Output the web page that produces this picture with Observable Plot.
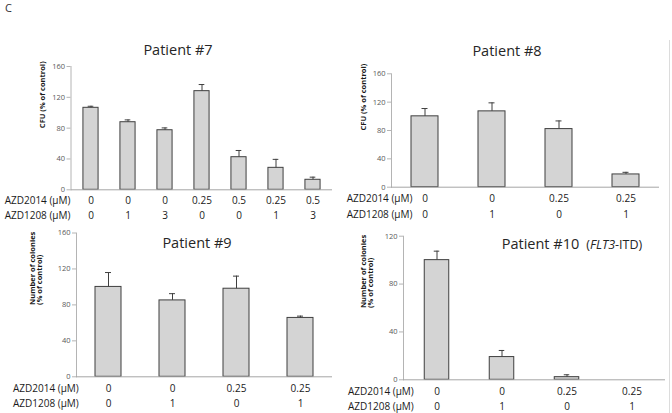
<!DOCTYPE html>
<html>
<head>
<meta charset="utf-8">
<script src="https://cdn.jsdelivr.net/npm/d3@7"></script>
<script src="https://cdn.jsdelivr.net/npm/@observablehq/plot@0.6"></script>
<style>
  html, body { margin: 0; padding: 0; background: #fff; }
  #root { position: relative; width: 672px; height: 413px; overflow: hidden; font-family: "Open Sans", sans-serif; }
  .panel { position: absolute; }
  .title { position: absolute; font-size: 14.5px; color: #262626; white-space: nowrap; transform: translate(-50%, -50%); line-height: 1; }
  .title.left { transform: translate(0, -50%); }
  .sub { font-size: 12.5px; }
  .letter { position: absolute; left: 5px; top: 2px; font-size: 11px; line-height: 11px; color: #333; }
  .vline { position: absolute; left: 669px; top: 40px; width: 1px; height: 373px; background: #dcdcdc; }
</style>
</head>
<body>
<div id="root">
  <div class="letter">C</div>
  <div class="vline"></div>
</div>
<script>
// ---- data ----
const rowLabel2014 = "AZD2014 (μM)";
const rowLabel1208 = "AZD1208 (μM)";

const p7Title = "Patient #7";
const p7Azd2014 = ["0", "0", "0", "0.25", "0.5", "0.25", "0.5"];
const p7Azd1208 = ["0", "1", "3", "0", "0", "1", "3"];
const p7Values = [106.4, 87.7, 77.3, 128, 42.3, 28.5, 13];
const p7Errors = [2, 3, 3, 8.6, 8.7, 11, 3.4];
const p7YTitle = "CFU (% of control)";

const p8Title = "Patient #8";
const p8Azd2014 = ["0", "0", "0.25", "0.25"];
const p8Azd1208 = ["0", "1", "0", "1"];
const p8Values = [100, 107, 82, 18];
const p8Errors = [11, 12, 11.5, 3];
const p8YTitle = "CFU (% of control)";

const p9Title = "Patient #9";
const p9Azd2014 = ["0", "0", "0.25", "0.25"];
const p9Azd1208 = ["0", "1", "0", "1"];
const p9Values = [100, 85, 98, 65.5];
const p9Errors = [16, 7.5, 14, 2];
const p9YTitle = "Number of colonies\n(% of control)";

const p10Title = "Patient #10";
const p10Sub = "FLT3";
const p10SubRest = "-ITD)";
const p10Azd2014 = ["0", "0", "0.25", "0.25"];
const p10Azd1208 = ["0", "1", "0", "1"];
const p10Values = [100, 19, 2.2, 0];
const p10Errors = [7.5, 5.5, 2, 0];
const p10YTitle = "Number of colonies\n(% of control)";

const yTicks160 = [0, 40, 80, 120, 160];
const yTicks120 = [0, 40, 80, 120];

// ---- drawing ----
const root = document.getElementById("root");

function panel(cfg) {
  const n = cfg.values.length;
  const rows = cfg.values.map((v, i) => ({k: i, v, e: cfg.errors[i], a: cfg.azd2014[i], b: cfg.azd1208[i]}));
  const errRows = rows.filter(d => d.e > 0);
  const step = (cfg.width - cfg.ml - cfg.mr) / n;
  const barIns = (step - cfg.barWidth) / 2;
  const capIns = (step - 6) / 2;
  const txt = {fontSize: 10, fill: "#1a1a1a", lineAnchor: "middle"};
  const chart = Plot.plot({
    width: cfg.width,
    height: cfg.height,
    marginLeft: cfg.ml,
    marginRight: cfg.mr,
    marginTop: cfg.mt,
    marginBottom: cfg.mb,
    style: {fontFamily: "'Open Sans', sans-serif", background: "transparent", overflow: "visible"},
    x: {type: "band", domain: d3.range(n), padding: 0, axis: null},
    y: {domain: [0, cfg.yMax], axis: null},
    marks: [
      Plot.frame({anchor: "left", stroke: "#b4b4b4"}),
      Plot.barY(rows, {x: "k", y: "v", fill: "#d4d4d4", stroke: "#3f3f3f", strokeWidth: 1, insetLeft: barIns, insetRight: barIns}),
      Plot.ruleY([0], {stroke: "#a6a6a6"}),
      Plot.ruleX(errRows, {x: "k", y1: "v", y2: d => d.v + d.e, stroke: "#3f3f3f", strokeWidth: 1}),
      Plot.tickY(errRows, {x: "k", y: d => d.v + d.e, stroke: "#3f3f3f", strokeWidth: 1, insetLeft: capIns, insetRight: capIns}),
      Plot.axisY({ticks: cfg.yTicks, tickSize: 4, tickPadding: 2, stroke: "#b4b4b4", fill: "#595959", fontSize: 7.5, label: null}),
      Plot.text(rows, {x: "k", text: "a", frameAnchor: "bottom", dy: cfg.row1, ...txt}),
      Plot.text(rows, {x: "k", text: "b", frameAnchor: "bottom", dy: cfg.row2, ...txt}),
      Plot.text([rowLabel2014], {frameAnchor: "bottom-left", dx: cfg.hdx, dy: cfg.row1, textAnchor: "end", ...txt}),
      Plot.text([rowLabel1208], {frameAnchor: "bottom-left", dx: cfg.hdx, dy: cfg.row2, textAnchor: "end", ...txt}),
      Plot.text([cfg.yTitle], {frameAnchor: "left", dx: cfg.tdx, rotate: -90, fontWeight: "bold", fontSize: 7.5, lineHeight: 0.9, fill: "#1a1a1a"})
    ]
  });
  const wrap = document.createElement("div");
  wrap.className = "panel";
  wrap.style.left = cfg.left + "px";
  wrap.style.top = cfg.top + "px";
  wrap.appendChild(chart);
  root.appendChild(wrap);
}

function title(text, x, y, cls) {
  const d = document.createElement("div");
  d.className = "title" + (cls ? " " + cls : "");
  d.style.left = x + "px";
  d.style.top = y + "px";
  d.textContent = text;
  root.appendChild(d);
  return d;
}

panel({values: p7Values, errors: p7Errors, azd2014: p7Azd2014, azd1208: p7Azd1208, yTitle: p7YTitle,
  yMax: 160, yTicks: yTicks160, left: 0, top: 30, width: 340, height: 200,
  ml: 70.5, mr: 8, mt: 36, mb: 40.7, row1: 10.8, row2: 25.8, hdx: -0.5, tdx: -28.5, barWidth: 15.5});

panel({values: p8Values, errors: p8Errors, azd2014: p8Azd2014, azd1208: p8Azd1208, yTitle: p8YTitle,
  yMax: 160, yTicks: yTicks160, left: 336, top: 40, width: 336, height: 190,
  ml: 55, mr: 13, mt: 33.3, mb: 43.3, row1: 11.5, row2: 27.3, hdx: 21, tdx: -28, barWidth: 27});

panel({values: p9Values, errors: p9Errors, azd2014: p9Azd2014, azd1208: p9Azd1208, yTitle: p9YTitle,
  yMax: 160, yTicks: yTicks160, left: 0, top: 222, width: 340, height: 191,
  ml: 76, mr: 8, mt: 10.5, mb: 36.7, row1: 12, row2: 27, hdx: 2.3, tdx: -40.5, barWidth: 26});

panel({values: p10Values, errors: p10Errors, azd2014: p10Azd2014, azd1208: p10Azd1208, yTitle: p10YTitle,
  yMax: 120, yTicks: yTicks120, left: 336, top: 222, width: 336, height: 191,
  ml: 67, mr: 7, mt: 13.7, mb: 33.7, row1: 11.5, row2: 27, hdx: 10.3, tdx: -36, barWidth: 25});

title(p7Title, 178, 50);
title(p8Title, 507, 51);
title(p9Title, 197, 243);
const t10 = title(p10Title + " ", 501.7, 243.5, "left");
const sub = document.createElement("span");
sub.className = "sub";
sub.innerHTML = "&nbsp;(<i></i>";
sub.querySelector("i").textContent = p10Sub;
sub.appendChild(document.createTextNode(p10SubRest));
t10.appendChild(sub);
</script>
</body>
</html>
